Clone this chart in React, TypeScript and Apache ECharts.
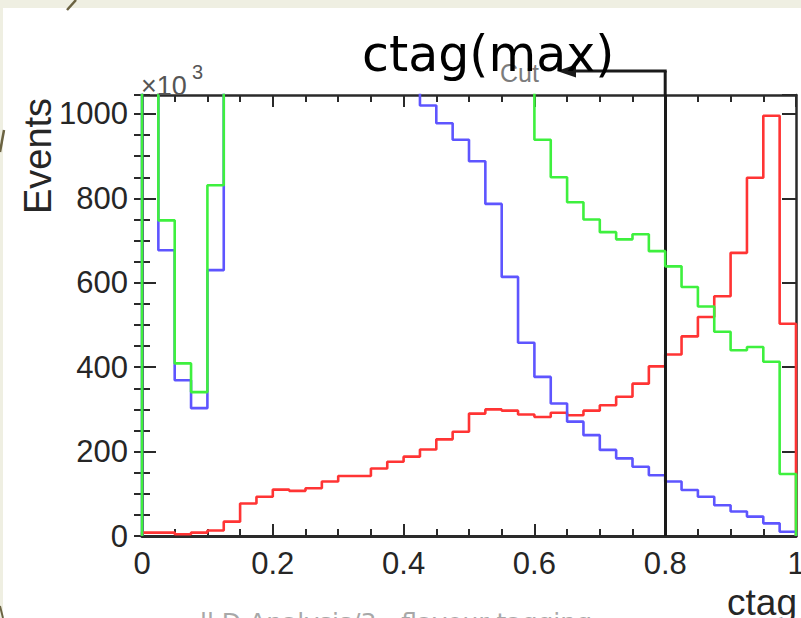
import React, { useEffect, useRef } from "react";
import * as echarts from "echarts";

// ---- data (histograms: 40 bins of width 0.025 over ctag in [0,1]) ----
const BIN_WIDTH = 0.025;
// values above the visible range (off-scale) are estimates; they are clipped by the frame
const redValues = [
  8, 8, 4, 8, 13, 34, 77, 93, 110, 107,
  113, 129, 142, 142, 160, 176, 188, 205, 229, 247,
  290, 300, 297, 288, 282, 292, 286, 297, 310, 330,
  361, 402, 430, 473, 519, 568, 671, 849, 996, 503,
];
const blueValues = [
  2500, 677, 369, 303, 630, 1900, 2300, 2400, 2300, 2100,
  1900, 1700, 1550, 1400, 1280, 1180, 1100, 1020, 978, 939,
  888, 787, 614, 458, 377, 314, 271, 239, 204, 184,
  164, 144, 129, 109, 93, 73, 58, 46, 30, 10,
];
const greenValues = [
  3000, 748, 409, 341, 831, 2600, 3200, 3400, 3300, 3100,
  2900, 2700, 2500, 2300, 2100, 1900, 1750, 1600, 1480, 1380,
  1290, 1200, 1130, 1080, 939, 850, 791, 750, 720, 703,
  715, 675, 639, 590, 544, 484, 440, 448, 413, 147,
];
const xTickLabels = ["0", "0.2", "0.4", "0.6", "0.8", "1"];
const yTickLabels = ["0", "200", "400", "600", "800", "1000"];
const xMin = 0;
const xMax = 1;
const yMin = 0;
const yMax = 1045;
const cutValue = 0.8;

function histPoints(vals: number[]): number[][] {
  const pts: number[][] = [[xMin, 0]];
  vals.forEach((v, i) => {
    pts.push([+(i * BIN_WIDTH).toFixed(4), v]);
    pts.push([+((i + 1) * BIN_WIDTH).toFixed(4), v]);
  });
  pts.push([+(vals.length * BIN_WIDTH).toFixed(4), 0]);
  return pts;
}

const FONT = '"Liberation Sans", Arial, Helvetica, sans-serif';
const FRAME = "#2a2a2a";

export default function App() {
  const ref = useRef<HTMLDivElement>(null);
  useEffect(() => {
    if (!ref.current) return;
    const chart = echarts.init(ref.current, undefined, { renderer: "svg" });
    const lineSeries = (name: string, vals: number[], color: string, z: number) => ({
      name,
      type: "line",
      data: histPoints(vals),
      xAxisIndex: 0,
      yAxisIndex: 0,
      symbol: "none",
      clip: true,
      z,
      lineStyle: { color, width: 2.6 },
      itemStyle: { color },
    });
    const xAxisBase = {
      type: "value",
      min: xMin,
      max: xMax,
      interval: 0.2,
      splitLine: { show: false },
      axisLine: { show: true, onZero: false, lineStyle: { color: FRAME, width: 2.5 } },
      axisTick: { show: true, inside: true, length: 12, lineStyle: { color: FRAME, width: 2 } },
      minorTick: { show: true, splitNumber: 4, length: 7, lineStyle: { color: FRAME, width: 2 } },
    };
    const yMajor = (position: string, labels: boolean) => ({
      type: "value",
      position,
      min: yMin,
      max: yMax,
      interval: 200,
      splitLine: { show: false },
      axisLine: { show: true, onZero: false, lineStyle: { color: FRAME, width: 2.5 } },
      axisTick: { show: true, inside: true, length: 14, lineStyle: { color: FRAME, width: 2 } },
      axisLabel: labels
        ? {
            show: true,
            margin: 14,
            color: "#262626",
            fontSize: 31,
            fontFamily: FONT,
            showMaxLabel: false,
            formatter: (v: number) => {
              const idx = Math.round(v / 200);
              return Math.abs(v - idx * 200) < 1e-6 && idx < yTickLabels.length ? yTickLabels[idx] : "";
            },
          }
        : { show: false },
    });
    const yMinor = (position: string) => ({
      type: "value",
      position,
      min: yMin,
      max: yMax,
      interval: 50,
      splitLine: { show: false },
      axisLine: { show: false },
      axisTick: { show: true, inside: true, length: 8, lineStyle: { color: FRAME, width: 2 } },
      axisLabel: { show: false },
    });

    chart.setOption({
      animation: false,
      backgroundColor: "#ffffff",
      grid: { left: 142, top: 95, right: 5, bottom: 82, containLabel: false, outerBoundsMode: "none" },
      xAxis: [
        {
          ...xAxisBase,
          position: "bottom",
          axisLine: { show: true, onZero: false, lineStyle: { color: FRAME, width: 3 } },
          axisLabel: {
            show: true,
            margin: 12,
            color: "#262626",
            fontSize: 31,
            fontFamily: FONT,
            formatter: (v: number) => {
              const idx = Math.round(v / 0.2);
              return xTickLabels[idx] ?? "";
            },
          },
        },
        { ...xAxisBase, position: "top", axisLabel: { show: false } },
      ],
      yAxis: [yMajor("left", true), yMinor("left"), yMajor("right", false), yMinor("right")],
      series: [
        {
          ...lineSeries("red", redValues, "#ff3434", 3),
          markLine: {
            silent: true,
            symbol: ["none", "none"],
            label: { show: false },
            lineStyle: { color: "#1a1a1a", width: 3, type: "solid" },
            data: [{ xAxis: cutValue }],
          },
        },
        lineSeries("blue", blueValues, "#5e55ff", 4),
        lineSeries("green", greenValues, "#3ef03e", 5),
      ],
    });

    const top = chart.convertToPixel({ xAxisIndex: 0, yAxisIndex: 0 }, [cutValue, yMax]) as number[];
    const cx = top[0];
    const gy = top[1];
    const arrowY = 71;

    chart.setOption({
      graphic: [
        { type: "rect", shape: { x: 0, y: 0, width: 801, height: 8 }, style: { fill: "#efefe2" }, z: 50 },
        { type: "rect", shape: { x: 0, y: 0, width: 3, height: 618 }, style: { fill: "#efefe2" }, z: 50 },
        { type: "line", shape: { x1: 76, y1: 0, x2: 67, y2: 10 }, style: { stroke: "#6b6342", lineWidth: 2.5 }, z: 51 },
        { type: "line", shape: { x1: 4, y1: 130, x2: 0, y2: 152 }, style: { stroke: "#6b6342", lineWidth: 2.5 }, z: 51 },
        { type: "line", shape: { x1: 0, y1: 606, x2: 3, y2: 618 }, style: { stroke: "#6b6342", lineWidth: 2 }, z: 51 },
        // cut arrow above the frame
        { type: "line", shape: { x1: cx, y1: gy, x2: cx, y2: arrowY }, style: { stroke: "#1a1a1a", lineWidth: 3 }, z: 20 },
        { type: "line", shape: { x1: cx + 1.5, y1: arrowY, x2: 572, y2: arrowY }, style: { stroke: "#1a1a1a", lineWidth: 3 }, z: 20 },
        { type: "polygon", shape: { points: [[557, arrowY], [576, arrowY - 6.5], [576, arrowY + 6.5]] }, style: { fill: "#1a1a1a" }, z: 20 },
        {
          type: "text", x: 500, y: 73, z: 19,
          style: { text: "Cut", fontSize: 25, fontFamily: FONT, fill: "#7c7c7c", verticalAlign: "middle", align: "left" },
        },
        {
          type: "text", x: 141, y: 86, z: 19,
          style: { text: "×10", fontSize: 27, fontFamily: FONT, fill: "#555", verticalAlign: "middle", align: "left" },
        },
        {
          type: "text", x: 192, y: 72, z: 19,
          style: { text: "3", fontSize: 20, fontFamily: FONT, fill: "#555", verticalAlign: "middle", align: "left" },
        },
        {
          type: "text", x: 38, y: 156, rotation: Math.PI / 2, z: 19,
          style: { text: "Events", fontSize: 38, fontFamily: FONT, fill: "#262626", verticalAlign: "middle", align: "center" },
        },
        {
          type: "text", x: 797, y: 602, z: 19,
          style: { text: "ctag", fontSize: 37, fontFamily: FONT, fill: "#262626", verticalAlign: "middle", align: "right" },
        },
        {
          type: "text", x: 362, y: 54, z: 60,
          style: { text: "ctag(max)", fontSize: 49, fontFamily: '"DejaVu Sans", sans-serif', fill: "#000", verticalAlign: "middle", align: "left" },
        },
        {
          type: "text", x: 200, y: 610, z: 60,
          style: { text: "ll D Analysis/3 - flavour tagging", fontSize: 25, fontFamily: '"DejaVu Sans", sans-serif', fill: "#a8a8a8", verticalAlign: "top", align: "left" },
        },
      ],
    });

    return () => chart.dispose();
  }, []);
  return (
    <div
      ref={ref}
      style={{ position: "absolute", left: 0, top: 0, width: 801, height: 618, background: "#fff" }}
    />
  );
}
